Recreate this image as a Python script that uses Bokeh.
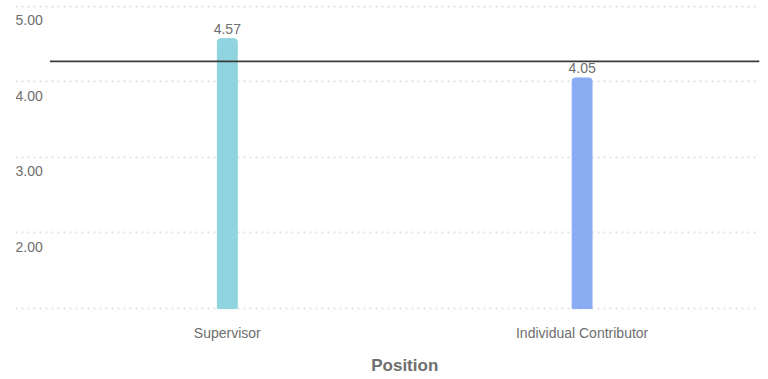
from bokeh.plotting import figure
from bokeh.models import (ColumnDataSource, LabelSet, Title, Range1d, FixedTicker)
from bokeh.core.properties import value
from bokeh.embed import file_html
from bokeh.resources import INLINE

# Mean score by position
categories = ["Supervisor", "Individual Contributor"]
scores = [4.57, 4.05]
bar_colors = ["#8fd4df", "#8babf2"]
benchmark = 4.27
y_ticks = [1.0, 2.0, 3.0, 4.0, 5.0]
y_tick_labels = ["", "2.00", "3.00", "4.00", "5.00"]
x_title = "Position"

FONT = "Liberation Sans"
TEXT_COLOR = "#6e6e6e"

positions = list(range(1, len(categories) + 1))

x_start, x_end = 0.403, len(categories) + 0.5
y_start, y_end = 0.974, 5.075
FRAME_W = 744
p = figure(frame_width=FRAME_W, frame_height=310, output_backend="svg",
           toolbar_location=None,
           x_range=Range1d(x_start, x_end), y_range=Range1d(y_start, y_end),
           min_border_left=15, min_border_right=9, min_border_top=0,
           min_border_bottom=69)
p.outline_line_color = None
p.background_fill_color = "white"
p.border_fill_color = "white"

# dotted horizontal grid, no vertical grid
p.xgrid.visible = False
p.ygrid.ticker = FixedTicker(ticks=y_ticks)
p.ygrid.grid_line_color = "#e2e2e2"
p.ygrid.grid_line_width = 2
p.ygrid.grid_line_dash = "2 4"
p.yaxis.visible = False

# category axis at the bottom
ax = p.xaxis[0]
ax.ticker = FixedTicker(ticks=positions)
ax.major_label_overrides = {pos: name for pos, name in zip(positions, categories)}
ax.axis_line_color = None
ax.major_tick_line_color = None
ax.minor_tick_line_color = None
ax.major_label_text_font = FONT
ax.major_label_text_font_size = "14px"
ax.major_label_text_color = TEXT_COLOR
ax.major_label_standoff = 8

# axis title centred under the category bands rather than the whole frame
band_mid_px = (((0.5 + x_end) / 2) - x_start) / (x_end - x_start) * FRAME_W
title_w = 67
p.add_layout(Title(text=x_title, align="left", offset=band_mid_px - title_w / 2,
                   standoff=21, text_font=FONT, text_font_size="17px",
                   text_font_style="bold", text_color=TEXT_COLOR), "below")

bars = ColumnDataSource(dict(
    x=positions, top=scores, color=bar_colors,
    label=[f"{s:.2f}" for s in scores],
))
p.vbar(x="x", top="top", bottom=y_ticks[0], width=0.056, color="color",
       source=bars, border_radius=(3, 3, 0, 0))

p.add_layout(LabelSet(x="x", y="top", text="label", source=bars,
                      y_offset=5, text_align="center", text_baseline="alphabetic",
                      text_font=value(FONT), text_font_size="14px",
                      text_color=TEXT_COLOR))

# benchmark line across the category bands
p.line(x=[0.5, x_end], y=[benchmark, benchmark], line_color="#3a3a3a",
       line_width=1.6)

# y tick labels sit just under their grid lines
ticks = ColumnDataSource(dict(x=[x_start] * len(y_ticks), y=y_ticks,
                              text=y_tick_labels))
p.add_layout(LabelSet(x="x", y="y", text="text", source=ticks,
                      x_offset=0, y_offset=-9, text_align="left",
                      text_baseline="top", text_font=value(FONT),
                      text_font_size="14px", text_color=TEXT_COLOR))

open("out.html", "w").write(file_html(p, INLINE))
